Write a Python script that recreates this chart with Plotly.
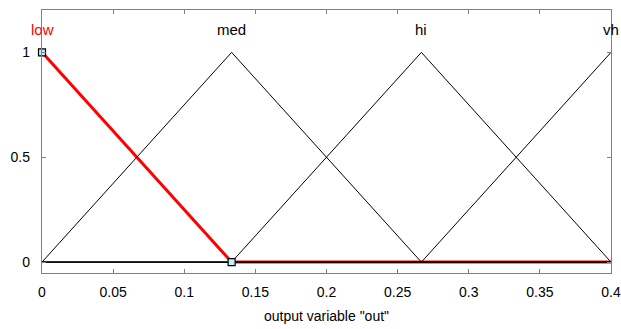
import plotly.graph_objects as go

mf_names = ["low", "med", "hi", "vh"]
mf_x = [[0, 0.1333, 0.4], [0, 0.1333, 0.2667, 0.4], [0, 0.1333, 0.2667, 0.4], [0, 0.2667, 0.4, 0.4]]
mf_y = [[1, 0, 0], [0, 1, 0, 0], [0, 0, 1, 0], [0, 0, 1, 1]]
label_x = [0, 0.1333, 0.2667, 0.4]
label_y = [1.11, 1.11, 1.11, 1.11]
label_colors = ["red", "black", "black", "black"]
handle_x = [0, 0.1333]
handle_y = [1, 0]
x_ticks = [0, 0.05, 0.1, 0.15, 0.2, 0.25, 0.3, 0.35, 0.4]
x_ticklabels = ["0", "0.05", "0.1", "0.15", "0.2", "0.25", "0.3", "0.35", "0.4"]
y_ticks = [0, 0.5, 1]
y_ticklabels = ["0", "0.5", "1"]

FONT = "Liberation Sans, Arial"

fig = go.Figure()
# selected MF (red, thick)
fig.add_trace(go.Scatter(x=mf_x[0], y=mf_y[0], mode="lines",
                         line=dict(color="red", width=3), hoverinfo="skip"))
for i in range(1, 4):
    fig.add_trace(go.Scatter(x=mf_x[i], y=mf_y[i], mode="lines",
                             line=dict(color="black", width=1), hoverinfo="skip"))
# baseline
fig.add_trace(go.Scatter(x=[0, 0.4], y=[0, 0], mode="lines",
                         line=dict(color="black", width=1.2), hoverinfo="skip"))
fig.add_trace(go.Scatter(x=handle_x, y=handle_y, mode="markers",
                         marker=dict(symbol="square", size=7, color="#bfefff",
                                     line=dict(color="black", width=1.2)),
                         cliponaxis=False, hoverinfo="skip"))

for name, lx, ly, col in zip(mf_names, label_x, label_y, label_colors):
    fig.add_annotation(x=lx, y=ly, xref="x", yref="y", text=name, showarrow=False,
                       xanchor="center", yanchor="middle",
                       font=dict(family=FONT, size=15, color=col))

axis_common = dict(showgrid=False, zeroline=False, showline=True, mirror="ticks",
                   linecolor="#808080", linewidth=1.3, ticks="inside", ticklen=4,
                   tickcolor="#808080", automargin=False, ticklabeloverflow="allow",
                   tickfont=dict(family=FONT, size=14, color="black"))
fig.update_xaxes(range=[0, 0.4], tickvals=x_ticks, ticktext=x_ticklabels,
                 ticklabelstandoff=6,
                 title=dict(text='output variable "out"', font=dict(family=FONT, size=14, color="black"), standoff=12),
                 **axis_common)
fig.update_yaxes(range=[-0.052, 1.202], tickvals=y_ticks, ticktext=y_ticklabels,
                 ticklabelstandoff=8, **axis_common)
fig.update_layout(width=621, height=329, showlegend=False,
                  margin=dict(l=42, r=10, t=10, b=56),
                  paper_bgcolor="white", plot_bgcolor="white")
fig.write_html("out.html", config={"displayModeBar": False},
               post_script="document.body.style.margin='0';document.body.style.overflow='hidden';")
